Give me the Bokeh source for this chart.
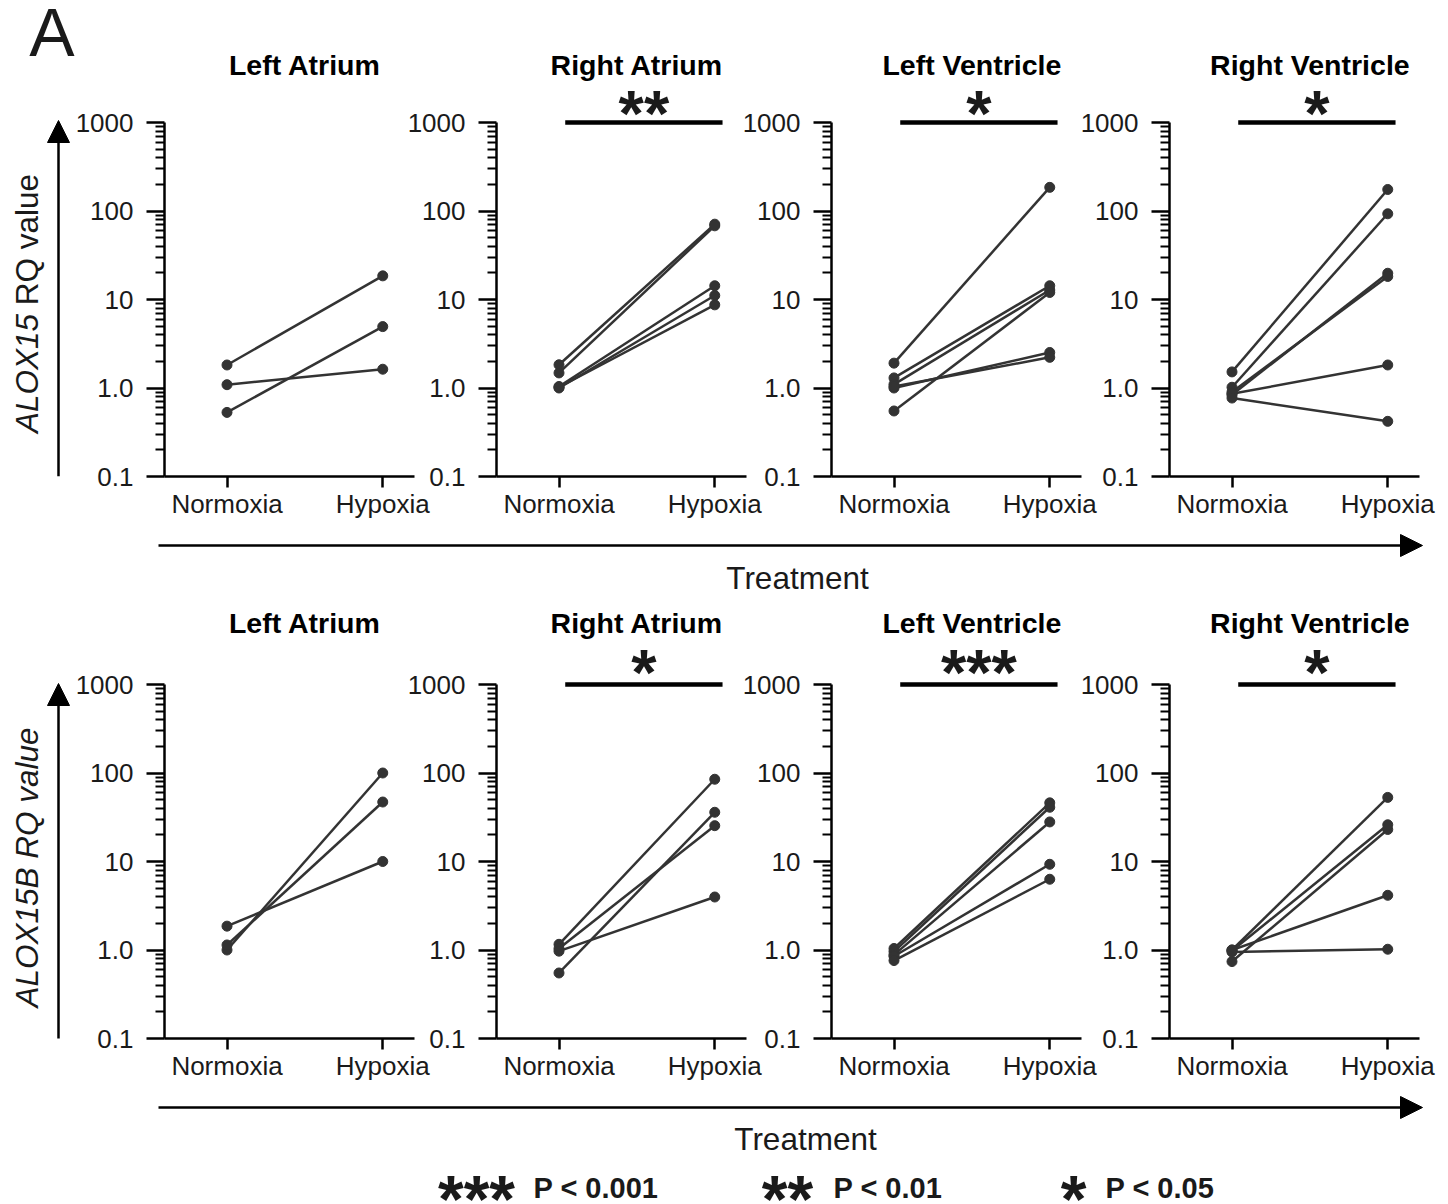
import math
from bokeh.plotting import figure
from bokeh.layouts import row, column
from bokeh.models import Range1d, FixedTicker, CustomJSTickFormatter, Arrow, NormalHead, ColumnDataSource
from bokeh.core.properties import value
from bokeh.embed import file_html
from bokeh.resources import INLINE

# ------------------------------------------------------------------ data
conditions = ["Normoxia", "Hypoxia"]
regions = ["Left Atrium", "Right Atrium", "Left Ventricle", "Right Ventricle"]

# ALOX15 (top row): paired samples, normoxia -> hypoxia
alox15_la_normoxia = [1.82, 1.09, 0.53]
alox15_la_hypoxia = [18.5, 1.63, 4.94]
alox15_ra_normoxia = [1.83, 1.48, 1.04, 1.00, 1.02]
alox15_ra_hypoxia = [71.0, 68.0, 14.3, 11.1, 8.7]
alox15_lv_normoxia = [1.91, 1.30, 1.10, 0.55, 1.00, 1.04]
alox15_lv_hypoxia = [185.0, 14.3, 12.8, 12.0, 2.52, 2.22]
alox15_rv_normoxia = [1.52, 1.02, 0.84, 0.90, 0.86, 0.77]
alox15_rv_hypoxia = [175.0, 93.0, 19.8, 18.2, 1.82, 0.42]

# ALOX15B (bottom row)
alox15b_la_normoxia = [1.86, 1.00, 1.14]
alox15b_la_hypoxia = [10.0, 100.0, 47.0]
alox15b_ra_normoxia = [1.16, 0.55, 1.04, 0.97]
alox15b_ra_hypoxia = [85.0, 36.0, 25.4, 3.97]
alox15b_lv_normoxia = [1.04, 0.96, 0.88, 0.85, 0.76]
alox15b_lv_hypoxia = [46.0, 41.0, 28.0, 9.3, 6.3]
alox15b_rv_normoxia = [1.00, 0.74, 0.98, 1.00, 0.95]
alox15b_rv_hypoxia = [53.0, 23.0, 26.0, 4.15, 1.02]

alox15_significance = ["", "**", "*", "*"]
alox15b_significance = ["", "*", "***", "*"]

y_tick_values = [0.1, 1, 10, 100, 1000]
y_tick_labels = ["0.1", "1.0", "10", "100", "1000"]

legend_stars = ["***", "**", "*"]
legend_labels = ["P < 0.001", "P < 0.01", "P < 0.05"]

# ------------------------------------------------------------------ style / layout
FONT = "Liberation Sans"
INK = "#333333"
TXT = "#1a1a1a"
DECADE = 88.5          # px per decade on the log axis
FRAME_W = 252
LEFT_B = 90
NORM_PX = 63
UNIT_PX = 157
BOTTOM_B = 45
STAR_F = 65

minor_ticks = [m * 10.0 ** e for e in range(-1, 3) for m in range(2, 10)]

ARIAL_EM = {'A': .667, 'L': .556, 'O': .778, 'X': .667, '1': .556, '5': .556, 'B': .667,
            ' ': .278, 'R': .722, 'Q': .778, 'v': .5, 'a': .556, 'l': .222, 'u': .556, 'e': .556}


def em_width(s):
    return sum(ARIAL_EM.get(c, 0.55) for c in s)


def ylog(dpx):
    return 1000 * 10 ** (dpx / DECADE)


def plain(f):
    f.border_fill_color = None
    f.background_fill_color = None
    f.outline_line_color = None
    f.xgrid.visible = False
    f.ygrid.visible = False


def style_axis(ax, tick_out, minor_out, standoff):
    ax.axis_line_color = "black"
    ax.axis_line_width = 2.5
    ax.major_tick_line_color = "black"
    ax.major_tick_line_width = 2.5
    ax.minor_tick_line_color = "black"
    ax.minor_tick_line_width = 2
    ax.major_tick_in = 0
    ax.major_tick_out = tick_out
    ax.minor_tick_in = 0
    ax.minor_tick_out = minor_out
    ax.major_label_text_font = FONT
    ax.major_label_text_font_size = "26px"
    ax.major_label_text_color = TXT
    ax.major_label_standoff = standoff


def panel(region, norm, hyp, star, frame_h, width, margin_left, title_dpx, star_dpx):
    y_end = ylog(frame_h - 4 * DECADE)
    p = figure(width=width, height=frame_h + BOTTOM_B, y_axis_type="log",
               x_range=Range1d(-NORM_PX / UNIT_PX, (FRAME_W - NORM_PX) / UNIT_PX),
               y_range=Range1d(0.1, y_end),
               output_backend="svg", toolbar_location=None,
               min_border=0, min_border_left=LEFT_B, min_border_right=width - LEFT_B - FRAME_W,
               min_border_top=0, min_border_bottom=BOTTOM_B,
               margin=(0, 0, 0, margin_left))
    plain(p)
    yax = p.yaxis[0]
    yax.ticker = FixedTicker(ticks=y_tick_values, minor_ticks=minor_ticks)
    yax.formatter = CustomJSTickFormatter(args=dict(vals=y_tick_values, labels=y_tick_labels), code="""
        let best = 0, bd = 1e9;
        for (let i = 0; i < vals.length; i++) {
            const d = Math.abs(Math.log10(tick) - Math.log10(vals[i]));
            if (d < bd) { bd = d; best = i; }
        }
        return labels[best];
    """)
    yax.bounds = (0.1, 1000)
    style_axis(yax, 18, 9, 13)

    xax = p.xaxis[0]
    xax.ticker = FixedTicker(ticks=list(range(len(conditions))))
    xax.formatter = CustomJSTickFormatter(args=dict(labels=conditions),
                                          code="return labels[Math.round(tick)] || '';")
    style_axis(xax, 11, 0, 1)

    lines = ColumnDataSource(dict(xs=[[0, 1] for _ in norm],
                                  ys=[[a, b] for a, b in zip(norm, hyp)]))
    p.multi_line("xs", "ys", source=lines, line_color=INK, line_width=2.5)
    pts = ColumnDataSource(dict(x=[0] * len(norm) + [1] * len(hyp), y=list(norm) + list(hyp)))
    p.scatter("x", "y", source=pts, size=10, fill_color=INK, line_color=INK)

    p.text(x=[0.5], y=[ylog(title_dpx)], text=[region], text_font=value(FONT),
           text_font_style="bold", text_font_size="28.5px", text_color="black",
           text_align="center", text_baseline="middle")
    if star:
        p.line(x=[0 + 0.04, 1 + 0.05], y=[1000, 1000], line_color="black", line_width=4.5)
        p.text(x=[0.545], y=[ylog(star_dpx)], text=[star], text_font=value(FONT),
               text_font_style="bold", text_font_size="%dpx" % STAR_F, text_color=TXT,
               text_align="center", text_baseline="middle")
    return p


def canvas(x0, x1, y0, y1, bottom_border=0, margin_left=0):
    f = figure(width=x1 - x0, height=y1 - y0, x_range=Range1d(x0, x1),
               y_range=Range1d(y1 - bottom_border, y0),
               output_backend="svg", toolbar_location=None,
               x_axis_location=None, y_axis_location=None,
               min_border=0, min_border_left=0, min_border_right=0,
               min_border_top=0, min_border_bottom=bottom_border, margin=(0, 0, 0, margin_left))
    plain(f)
    return f


def left_deco(y0, y1, parts, center, tip, tail, letter):
    d = canvas(0, 100, y0, y1, bottom_border=BOTTOM_B)
    F = 31.5
    total = sum(em_width(t) for t, _ in parts) * F
    pos = center + total / 2.0
    for t, style in parts:
        lead = len(t) - len(t.lstrip(" "))
        pos -= em_width(" ") * F * lead          # SVG collapses leading spaces
        t = t.lstrip(" ")
        d.text(x=[26.5], y=[pos], text=[t], angle=math.pi / 2, text_font=value(FONT),
               text_font_style=style, text_font_size="%spx" % F, text_color=TXT,
               text_align="left", text_baseline="middle")
        pos -= em_width(t) * F
    d.add_layout(Arrow(end=NormalHead(size=22, fill_color="black", line_color="black", line_width=1),
                       x_start=58, y_start=tail, x_end=58, y_end=tip,
                       line_color="black", line_width=2.5))
    if letter:
        d.text(x=[51.5], y=[31.5], text=[letter], text_font=value(FONT), text_font_size="68px",
               text_color=TXT, text_align="center", text_baseline="middle")
    return d


def treatment(f, y_arrow, x_text, y_text):
    f.add_layout(Arrow(end=NormalHead(size=22, fill_color="black", line_color="black", line_width=1),
                       x_start=158, y_start=y_arrow, x_end=1422, y_end=y_arrow,
                       line_color="black", line_width=2.5))
    f.text(x=[x_text], y=[y_text], text=["Treatment"], text_font=value(FONT),
           text_font_size="31.5px", text_color=TXT, text_align="center", text_baseline="middle")


top_data = [(alox15_la_normoxia, alox15_la_hypoxia), (alox15_ra_normoxia, alox15_ra_hypoxia),
            (alox15_lv_normoxia, alox15_lv_hypoxia), (alox15_rv_normoxia, alox15_rv_hypoxia)]
bot_data = [(alox15b_la_normoxia, alox15b_la_hypoxia), (alox15b_ra_normoxia, alox15b_ra_hypoxia),
            (alox15b_lv_normoxia, alox15b_lv_hypoxia), (alox15b_rv_normoxia, alox15b_rv_hypoxia)]

widths = [370, 370, 370, 371]
margins = [-28, -38, -35, -32]

row1 = [left_deco(0, 521, [("ALOX15", "italic"), (" RQ value", "normal")], 303, 120, 476, "A")]
for i, (n, h) in enumerate(top_data):
    row1.append(panel(regions[i], n, h, alox15_significance[i], 476, widths[i], margins[i], 58, 9.2))

mid = canvas(0, 1448, 521, 598)
treatment(mid, 545, 797, 577)

row3 = [left_deco(598, 1083, [("ALOX15B RQ value", "italic")], 867, 683, 1040, None)]
for i, (n, h) in enumerate(bot_data):
    row3.append(panel(regions[i], n, h, alox15b_significance[i], 440, widths[i], margins[i], 62, 11.7))

bottom = canvas(0, 1448, 1083, 1204)
treatment(bottom, 1107, 805, 1138)
star_x = [476, 787, 1073]
label_x = [533, 833, 1105]
bottom.text(x=star_x, y=[1198] * 3, text=legend_stars, text_font=value(FONT), text_font_style="bold",
            text_font_size="66px", text_color=TXT, text_align="center", text_baseline="middle")
bottom.text(x=label_x, y=[1187] * 3, text=legend_labels, text_font=value(FONT), text_font_style="bold",
            text_font_size="29px", text_color=TXT, text_align="left", text_baseline="middle")

layout = column(row(*row1), mid, row(*row3), bottom)

with open("out.html", "w") as fh:
    fh.write(file_html(layout, INLINE))
